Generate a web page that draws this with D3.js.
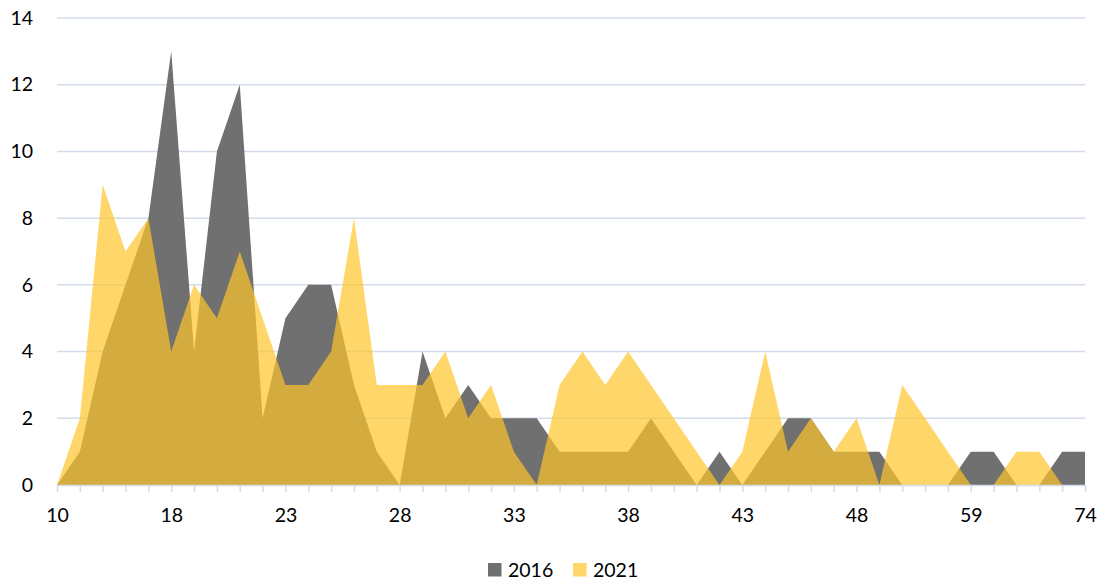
<!DOCTYPE html>
<html>
<head>
<meta charset="utf-8">
<script src="https://cdn.jsdelivr.net/npm/d3@7"></script>
<style>
  html, body { margin: 0; padding: 0; background: #fff; }
  svg { display: block; font-family: Lato, "Noto Sans", sans-serif; }
</style>
</head>
<body>
<svg id="chart" width="1103" height="581"></svg>
<script>
// Age categories along the x axis (every fifth one is labelled)
const ages = [10, 12, 14, 15, 16, 18, 19, 20, 21, 22, 23, 24, 25, 26, 27, 28, 29, 30, 31, 32,
              33, 34, 35, 36, 37, 38, 39, 40, 41, 42, 43, 44, 45, 46, 47, 48, 49, 51, 53, 55,
              59, 61, 63, 66, 70, 74];

// Counts per age for each year
const values2016 = [0, 1, 4, 6, 8, 13, 4, 10, 12, 2, 5, 6, 6, 3, 1, 0, 4, 2, 3, 2,
                    2, 2, 1, 1, 1, 1, 2, 1, 0, 1, 0, 1, 2, 2, 1, 1, 1, 0, 0, 0,
                    1, 1, 0, 0, 1, 1];
const values2021 = [0, 2, 9, 7, 8, 4, 6, 5, 7, 5, 3, 3, 4, 8, 3, 3, 3, 4, 2, 3,
                    1, 0, 3, 4, 3, 4, 3, 2, 1, 0, 1, 4, 1, 2, 1, 2, 0, 3, 2, 1,
                    0, 0, 1, 1, 0, 0];

const seriesNames = ["2016", "2021"];
const yTicks = [0, 2, 4, 6, 8, 10, 12, 14];
const labelEvery = 5;

const svg = d3.select("#chart");
const plotLeft = 57, plotRight = 1085, plotTop = 18, plotBottom = 485;

const x = d3.scalePoint().domain(ages.map(String)).range([plotLeft, plotRight]).padding(0);
const y = d3.scaleLinear().domain([0, 14]).range([plotBottom, plotTop]);

const gridColor = "#d3dcea";

// Horizontal gridlines
svg.append("g")
  .selectAll("line")
  .data(yTicks.filter(d => d > 0))
  .join("line")
  .attr("x1", plotLeft).attr("x2", plotRight)
  .attr("y1", d => y(d)).attr("y2", d => y(d))
  .attr("stroke", gridColor).attr("stroke-width", 1.5);

// Areas: 2016 first, 2021 semi-transparent on top
const area = d3.area()
  .x((d, i) => x(String(ages[i])))
  .y0(y(0))
  .y1(d => y(d));

svg.append("path")
  .datum(values2016)
  .attr("d", area)
  .attr("fill", "#707070");

svg.append("path")
  .datum(values2021)
  .attr("d", area)
  .attr("fill", "rgb(255,196,42)")
  .attr("fill-opacity", 0.7);

// X axis with a tick at every category
const xAxis = d3.axisBottom(x)
  .tickSizeInner(7).tickSizeOuter(0)
  .tickFormat((d, i) => (i % labelEvery === 0 ? d : ""));

const gx = svg.append("g")
  .attr("transform", `translate(0,${plotBottom})`)
  .call(xAxis);
gx.select(".domain").attr("stroke", gridColor).attr("stroke-width", 1.5);
gx.selectAll(".tick line").attr("stroke", gridColor).attr("stroke-width", 1.5);
gx.selectAll(".tick text")
  .attr("font-family", "Lato, 'Noto Sans', sans-serif")
  .attr("font-size", "19.5px")
  .attr("fill", "#000")
  .attr("y", 23)
  .attr("dy", "0.71em");

// Y axis labels only
const yAxis = d3.axisLeft(y).tickValues(yTicks).tickSize(0).tickPadding(0);
const gy = svg.append("g")
  .attr("transform", `translate(33,0)`)
  .call(yAxis);
gy.select(".domain").remove();
gy.selectAll(".tick text")
  .attr("font-family", "Lato, 'Noto Sans', sans-serif")
  .attr("font-size", "19.5px")
  .attr("fill", "#000")
  .attr("x", 0);

// Legend
const legend = svg.append("g").attr("transform", "translate(488,563)");
const legendItems = [
  { name: seriesNames[0], fill: "#707070", opacity: 1, dx: 0 },
  { name: seriesNames[1], fill: "rgb(255,196,42)", opacity: 0.7, dx: 85 }
];
const li = legend.selectAll("g").data(legendItems).join("g")
  .attr("transform", d => `translate(${d.dx},0)`);
li.append("rect")
  .attr("width", 13.5).attr("height", 13.5)
  .attr("fill", d => d.fill).attr("fill-opacity", d => d.opacity);
li.append("text")
  .attr("x", 20).attr("y", 14)
  .attr("font-size", "19.5px")
  .attr("fill", "#000")
  .text(d => d.name);
</script>
</body>
</html>
